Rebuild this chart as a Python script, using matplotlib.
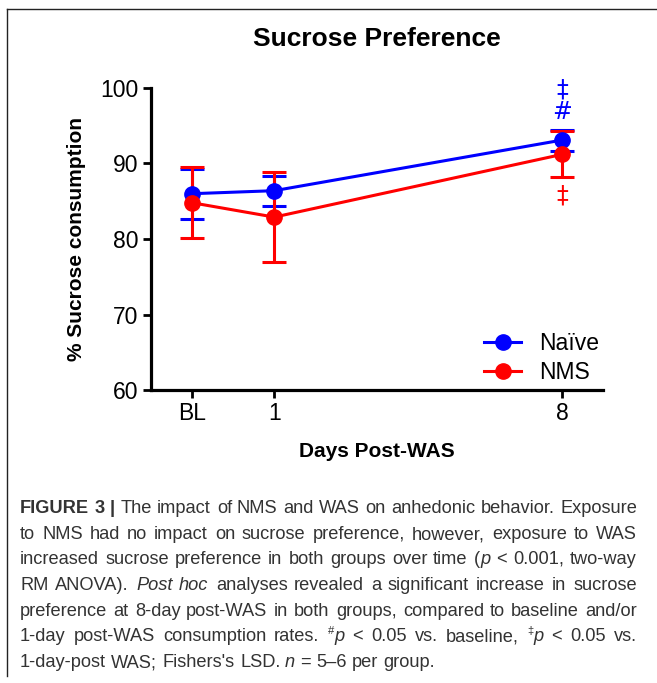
import matplotlib
matplotlib.use("Agg")
import matplotlib.pyplot as plt
import numpy as np

# ---------------- data ----------------
days = [-1, 1, 8]                 # BL plotted at -1
day_labels = ["BL", "1", "8"]
naive_mean = [86.0, 86.4, 93.1]
naive_err = [3.3, 2.0, 1.4]
nms_mean = [84.8, 82.9, 91.2]
nms_err = [4.7, 6.0, 3.05]
series_names = ["Naïve", "NMS"]
series_colors = ["#0000ff", "#ff0000"]
y_ticks = [60, 70, 80, 90, 100]

# significance marks: (x, y, text, color)
sig_marks = [(8, 99.8, "‡", "#0000ff"), (8, 96.8, "#", "#0000ff"), (8, 85.8, "‡", "#ff0000")]

W, H = 657, 683
fig = plt.figure(figsize=(W / 100, H / 100), dpi=100)
plt.rcParams['font.family'] = ['Liberation Sans', 'DejaVu Sans']

def fx(px):
    return px / W

def fy(py):
    return 1 - py / H

ax = fig.add_axes([fx(151), fy(390), fx(603) - fx(151), fy(88) - fy(390)])

handles = []
for mean, err, col, name in zip([naive_mean, nms_mean], [naive_err, nms_err], series_colors, series_names):
    cont = ax.errorbar(days, mean, yerr=err, color=col, lw=2.2, marker='o', markersize=11,
                       capsize=8.5, capthick=2.2, elinewidth=2.2, label=name, clip_on=False, zorder=3)
    handles.append(cont.lines[0])

for x, y, t, c in sig_marks:
    ax.text(x, y, t, color=c, fontsize=17, ha='center', va='center', clip_on=False,
            family=['DejaVu Sans'])

ax.set_xlim(-2, 9)
ax.set_ylim(60, 100)
ax.set_xticks(days)
ax.set_xticklabels(day_labels)
ax.set_yticks(y_ticks)
for s in ['top', 'right']:
    ax.spines[s].set_visible(False)
for s in ['left', 'bottom']:
    ax.spines[s].set_linewidth(2.3)
ax.tick_params(axis='both', width=2.0, length=6, labelsize=16.5, pad=3)
ax.set_title("Sucrose Preference", fontsize=19, fontweight='bold', pad=30)
ax.set_ylabel("% Sucrose consumption", fontsize=15, fontweight='bold', labelpad=10)
ax.set_xlabel("Days Post-WAS", fontsize=15, fontweight='bold', labelpad=12)

ax.legend(handles, series_names, loc='lower right', frameon=False, fontsize=16.5, handlelength=1.6,
          handletextpad=0.8, labelspacing=0.3, borderaxespad=0.0,
          bbox_to_anchor=(1.012, -0.012))

# figure border (top and left)
fig.add_artist(plt.Line2D([fx(7), fx(657)], [fy(9), fy(9)], color='#222222', lw=1.0))
fig.add_artist(plt.Line2D([fx(7), fx(7)], [fy(9), fy(676)], color='#222222', lw=1.0))

# ---------------- caption ----------------
cap_color = '#333333'
cap_font = ['Liberation Sans', 'DejaVu Sans']
R = {}
B = {'weight': 'bold'}
I = {'style': 'italic'}
S = {'sup': True}

caption_lines = [
    [("FIGURE 3 |", B), (" The impact of NMS and WAS on anhedonic behavior. Exposure", R)],
    [("to NMS had no impact on sucrose preference, however, exposure to WAS", R)],
    [("increased sucrose preference in both groups over time (", R), ("p", I), (" < 0.001, two-way", R)],
    [("RM ANOVA). ", R), ("Post hoc", I), (" analyses revealed a significant increase in sucrose", R)],
    [("preference at 8-day post-WAS in both groups, compared to baseline and/or", R)],
    [("1-day post-WAS consumption rates. ", R), ("#", S), ("p", I), (" < 0.05 vs. baseline, ", R),
     ("‡", S), ("p", I), (" < 0.05 vs.", R)],
    [("1-day-post WAS; Fishers's LSD. ", R), ("n", I), (" = 5–6 per group.", R)],
]
line_baselines = [513, 539, 564, 590, 616, 641, 667]
justify = [True, True, True, True, True, True, False]
x_left, x_right = 20, 637

renderer = fig.canvas.get_renderer()

def make_text(px, py, txt, st, size):
    kw = dict(color=cap_color, family=cap_font, fontsize=size, va='baseline', ha='left')
    if st.get('weight'):
        kw['fontweight'] = 'bold'
    if st.get('style'):
        kw['fontstyle'] = 'italic'
    if st.get('sup'):
        kw['fontsize'] = size * 0.62
        py = py - 7
    return fig.text(fx(round(px)), fy(py), txt, **kw)

def width_of(txt, st, size):
    t = make_text(0, 0, txt, st, size)
    w = t.get_window_extent(renderer).width
    t.remove()
    return w

def split_words(segs):
    words = []
    new_word = True
    for txt, st in segs:
        parts = txt.split(' ')
        for i, p in enumerate(parts):
            if i > 0:
                new_word = True
            if p == '':
                continue
            if new_word or not words:
                words.append([])
            words[-1].append((p, st))
            new_word = False
    return words

def natural_width(words, size):
    sp = width_of("a a", R, size) - width_of("aa", R, size)
    return sum(sum(width_of(p, st, size) for p, st in w) for w in words) + sp * (len(words) - 1)

# fit font size so the widest line fills the text block naturally
ref_size = 10.0
all_words = [split_words(s) for s in caption_lines]
max_nat = max(natural_width(w, ref_size) for w in all_words[:6])
cap_size = ref_size * (x_right - x_left) / max_nat * 0.995

space_w = width_of("a a", R, cap_size) - width_of("aa", R, cap_size)

for words, base, just in zip(all_words, line_baselines, justify):
    widths = [sum(width_of(p, st, cap_size) for p, st in w) for w in words]
    total = sum(widths)
    if just and len(words) > 1:
        gap = (x_right - x_left - total) / (len(words) - 1)
    else:
        gap = space_w
    x = x_left
    for w, ww in zip(words, widths):
        xx = x
        for p, st in w:
            make_text(xx, base, p, st, cap_size)
            xx += width_of(p, st, cap_size)
        x += ww + gap

fig.savefig("out.png", dpi=100)
